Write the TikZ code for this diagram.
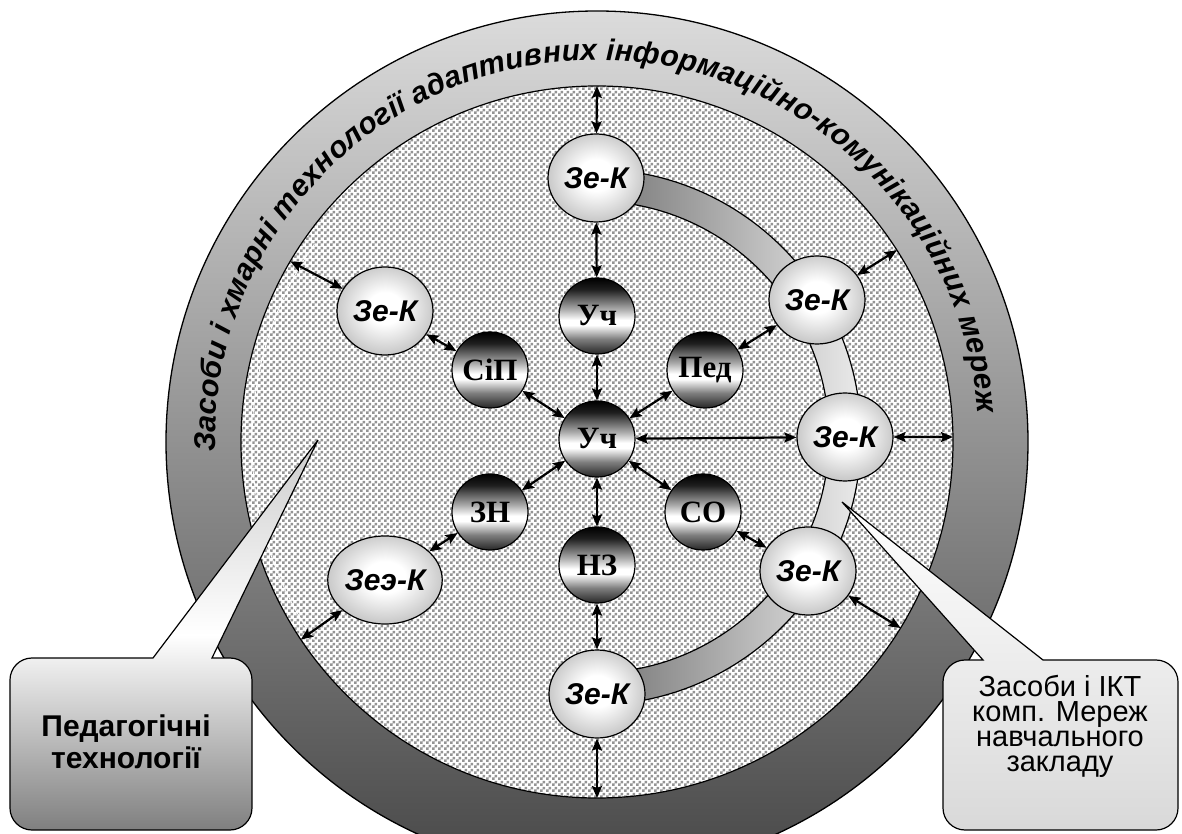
\documentclass[tikz,border=0pt]{standalone}
\usepackage{fontspec}
\setmainfont{Liberation Sans}
\newfontfamily\timesfont{Liberation Serif}
\usetikzlibrary{shapes.geometric,arrows.meta,decorations.text,patterns}

% fine chequer for the inner field
\pgfdeclarepatternformonly{chequer}{\pgfpointorigin}{\pgfqpoint{6pt}{6pt}}{\pgfqpoint{6pt}{6pt}}{%
  \pgfpathrectangle{\pgfpointorigin}{\pgfqpoint{3pt}{3pt}}%
  \pgfpathrectangle{\pgfqpoint{3pt}{3pt}}{\pgfqpoint{3pt}{3pt}}%
  \pgfusepath{fill}}
\pgfdeclareradialshading{pearl}{\pgfpoint{0bp}{2bp}}{color(0bp)=(white); color(9bp)=(white); color(25bp)=(black!21); color(50bp)=(black!21)}
\pgfdeclareverticalshading{metal}{100bp}{color(0bp)=(black!85); color(25bp)=(black!85); color(35bp)=(black!50); color(44bp)=(white); color(47.5bp)=(white); color(55bp)=(black!35); color(67.5bp)=(black!88); color(75bp)=(black); color(100bp)=(black)}

\begin{document}
\begin{tikzpicture}[x=1pt, y=1pt,
    kdot/.style={circle, draw, line width=1.2pt, minimum size=76pt, inner sep=0pt, shading=metal, font=\timesfont\bfseries\fontsize{31}{31}\selectfont},
    kell/.style={ellipse, draw, line width=1.2pt, minimum width=96pt, minimum height=88pt, inner sep=0pt, shading=pearl, font=\bfseries\itshape\fontsize{30}{30}\selectfont},
    link/.style={{Stealth[length=12pt,width=10pt,inset=2pt]}-{Stealth[length=12pt,width=10pt,inset=2pt]}, line width=2.2pt}]
                \newcommand{\rinner}{356}
                \newcommand{\router}{431}
                \newcommand{\rtext}{382}

                \useasboundingbox (-597,-392) rectangle (585,442);
                \clip (-597,-392) rectangle (585,442);

                % Draw outer ring and inner field
                \draw[line width=1.3pt, top color=black!14, bottom color=black!72] (0,0) circle[radius=\router];
                \draw[line width=1.2pt, preaction={fill=white}, pattern=chequer, pattern color=black!42] (0,0) circle[radius=\rinner];
                \draw[white, line width=0.8pt] (145:345) arc[start angle=145, end angle=215, radius=345];

                % Draw track
                \draw[line width=1.2pt, left color=black!55, right color=black!8]
                    ([shift={(-4,5)}]90:268) arc[start angle=90, end angle=-90, radius=268]
                    -- ([shift={(-4,5)}]-90:236) arc[start angle=-90, end angle=90, radius=236] -- cycle;

                % Draw dark nodes
                \node[kdot] (uch) at (0,3) {Уч};
                \node[kdot] (uchtop) at (0,126) {Уч};
                \node[kdot] (sip) at (-107,72) {СіП};
                \node[kdot] (ped) at (108,72) {Пед};
                \node[kdot] (zn) at (-107,-70) {ЗН};
                \node[kdot] (so) at (106,-70) {СО};
                \node[kdot] (nz) at (0,-123) {НЗ};

                % Draw light nodes
                \node[kell] (ktop) at (-1,264) {Зе-К};
                \node[kell] (kur) at (220,142) {Зе-К};
                \node[kell] (kr) at (248,5) {Зе-К};
                \node[kell] (klr) at (211,-129) {Зе-К};
                \node[kell] (kb) at (0,-252) {Зе-К};
                \node[kell] (kul) at (-212,131) {Зе-К};
                \node[kell] (kll) at (-212,-138) {Зеэ-К};

                % Draw arrows
                \foreach \n in {uchtop,sip,ped,zn,so,nz,kr} {
                    \draw[link] (uch) -- (\n);
                }
                \draw[link] (ktop) -- (uchtop);
                \draw[link] (kur) -- (ped);
                \draw[link] (klr) -- (so);
                \draw[link] (kb) -- (nz);
                \draw[link] (kul) -- (sip);
                \draw[link] (kll) -- (zn);
                \foreach \n/\a in {ktop/90, kur/32.6, kr/0.8, klr/-31.5, kb/-90, kul/149.5, kll/-146.3} {
                    \coordinate (rim-\n) at (\a:\rinner);
                    \draw[link] (\n) -- (rim-\n);
                }

                % Draw ring text
                \path[decorate, decoration={text along path, text align={fit to path},
                    text={|\bfseries\itshape\fontsize{30}{30}\selectfont|Засоби і хмарні технології адаптивних інформаційно-комунікаційних мереж}}]
                    (181.5:\rtext) arc[start angle=181.5, end angle=4.4, radius=\rtext];

                % Draw callouts
                \draw[line width=1.2pt, top color=black!20, bottom color=black!50, middle color=white]
                    (-279,2) -- (-444,-216) -- (-565,-216) arc[start angle=90, end angle=180, radius=22]
                    -- (-587,-366) arc[start angle=180, end angle=270, radius=22]
                    -- (-367,-388) arc[start angle=270, end angle=360, radius=22]
                    -- (-345,-238) arc[start angle=0, end angle=90, radius=22]
                    -- (-385,-216) -- cycle;
                \node[align=center, font=\bfseries\fontsize{30}{32}\selectfont] (pedtext) at (-471,-300) {Педагогічні\\технології};
                \draw[line width=1.2pt, top color=white, bottom color=black!15]
                    (245,-60) -- (446,-218) -- (559,-218) arc[start angle=90, end angle=0, radius=22]
                    -- (581,-366) arc[start angle=0, end angle=-90, radius=22]
                    -- (368,-388) arc[start angle=270, end angle=180, radius=22]
                    -- (346,-240) arc[start angle=180, end angle=90, radius=22]
                    -- (386,-218) -- cycle;
                \node[align=center, font=\fontsize{29}{25}\selectfont] (ikttext) at (463,-284) {Засоби і ІКТ\\комп. Мереж\\навчального\\закладу};
            \end{tikzpicture}
\end{document}
